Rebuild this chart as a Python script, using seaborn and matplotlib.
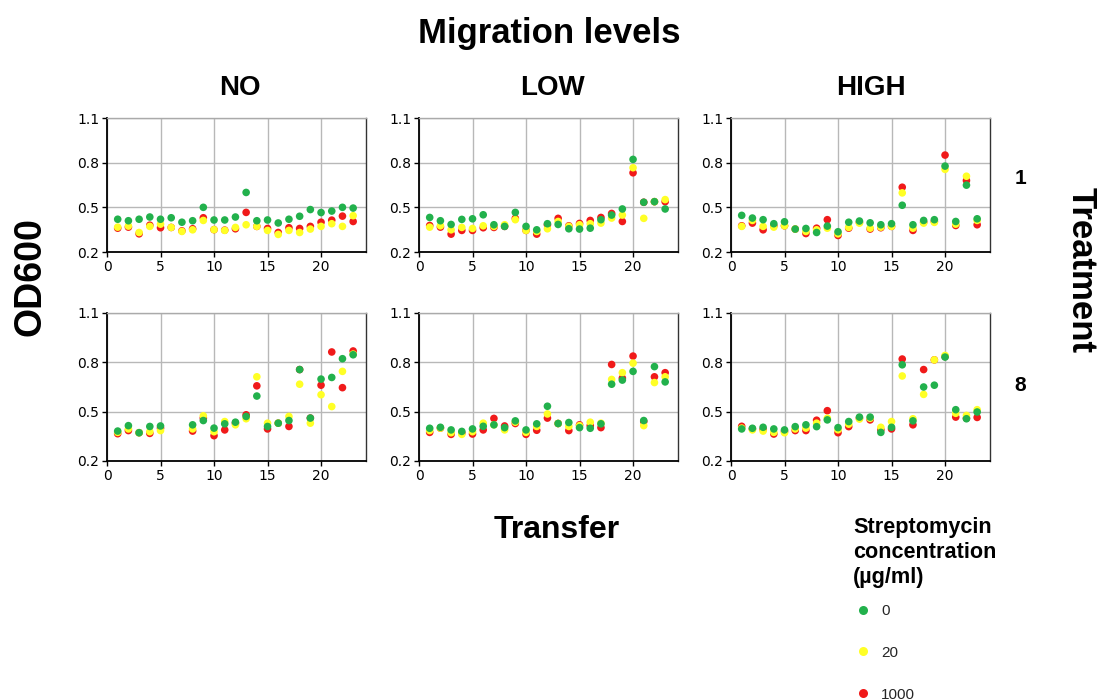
import numpy as np
import pandas as pd
import matplotlib
matplotlib.use("Agg")
import matplotlib.pyplot as plt
import seaborn as sns

# ---------------- data ----------------
transfers = list(range(1, 24))
migration_levels = ["NO", "LOW", "HIGH"]
treatments = ["1", "8"]
concentrations = ["0", "20", "1000"]
palette = {"0": "#22b14c", "20": "#ffff26", "1000": "#f01a1a"}
nan = np.nan

# Treatment 1
no_1_c0 = [0.42, 0.41, 0.42, 0.435, 0.42, 0.43, 0.40, 0.41, 0.50, 0.415, 0.415, 0.435, 0.60, 0.41, 0.415, 0.395, 0.42, 0.44, 0.485, 0.465, 0.475, 0.50, 0.495]
no_1_c20 = [0.367, 0.374, 0.331, 0.372, 0.387, 0.365, 0.338, 0.349, 0.412, 0.35, 0.345, 0.365, 0.383, 0.372, 0.345, 0.318, 0.345, 0.331, 0.354, 0.372, 0.39, 0.372, 0.444]
no_1_c1000 = [0.36, 0.367, 0.322, 0.38, 0.363, 0.365, 0.342, 0.356, 0.43, 0.35, 0.347, 0.356, 0.466, 0.372, 0.358, 0.331, 0.363, 0.358, 0.372, 0.40, 0.414, 0.441, 0.405]

low_1_c0 = [0.432, 0.41, 0.385, 0.419, 0.423, 0.45, 0.383, 0.372, 0.466, 0.372, 0.349, 0.39, 0.385, 0.356, 0.354, 0.36, 0.417, 0.448, 0.489, 0.822, 0.534, 0.538, 0.489]
low_1_c20 = [0.367, 0.376, 0.349, 0.365, 0.358, 0.376, 0.372, 0.383, 0.417, 0.345, 0.338, 0.356, 0.405, 0.372, 0.383, 0.39, 0.394, 0.428, 0.448, 0.766, 0.426, 0.538, 0.552]
low_1_c1000 = [0.378, 0.367, 0.32, 0.345, 0.345, 0.363, 0.365, 0.372, 0.426, 0.345, 0.32, 0.383, 0.426, 0.376, 0.392, 0.412, 0.432, 0.459, 0.405, 0.732, 0.534, 0.538, 0.538]

high_1_c0 = [0.446, 0.428, 0.417, 0.39, 0.403, 0.354, 0.358, 0.331, 0.374, 0.336, 0.40, 0.408, 0.396, 0.383, 0.39, 0.514, 0.383, 0.412, 0.417, 0.777, 0.405, 0.649, 0.423]
high_1_c20 = [0.372, 0.412, 0.372, 0.367, 0.376, 0.354, 0.338, 0.349, 0.36, 0.322, 0.365, 0.394, 0.36, 0.367, 0.372, 0.597, 0.36, 0.394, 0.399, 0.755, 0.387, 0.709, 0.412]
high_1_c1000 = [0.376, 0.394, 0.349, 0.376, 0.376, 0.354, 0.324, 0.36, 0.417, 0.311, 0.36, 0.399, 0.354, 0.363, 0.372, 0.635, 0.345, 0.40, 0.405, 0.851, 0.378, 0.68, 0.383]

# Treatment 8
no_8_c0 = [0.382, 0.415, 0.372, 0.41, 0.413, nan, nan, 0.42, 0.446, 0.40, 0.426, 0.436, 0.471, 0.595, 0.41, 0.43, 0.446, 0.756, 0.461, 0.698, 0.708, 0.822, 0.846]
no_8_c20 = [0.374, 0.395, 0.372, 0.378, 0.385, nan, nan, 0.395, 0.475, 0.378, 0.44, 0.42, 0.457, 0.712, 0.43, 0.43, 0.471, 0.667, 0.43, 0.603, 0.531, 0.745, 0.85]
no_8_c1000 = [0.366, 0.385, 0.372, 0.368, 0.40, nan, nan, 0.382, 0.461, 0.354, 0.389, 0.43, 0.481, 0.657, 0.395, 0.43, 0.41, 0.756, 0.461, 0.661, 0.863, 0.646, 0.869]

low_8_c0 = [0.399, 0.405, 0.389, 0.38, 0.395, 0.411, 0.42, 0.403, 0.444, 0.389, 0.426, 0.533, 0.428, 0.434, 0.403, 0.399, 0.426, 0.667, 0.692, 0.745, 0.446, 0.774, 0.681]
low_8_c20 = [0.385, 0.40, 0.372, 0.362, 0.378, 0.43, 0.42, 0.389, 0.436, 0.374, 0.41, 0.486, 0.428, 0.41, 0.415, 0.436, 0.43, 0.696, 0.737, 0.795, 0.415, 0.677, 0.712]
low_8_c1000 = [0.374, 0.40, 0.362, 0.37, 0.364, 0.389, 0.459, 0.413, 0.428, 0.362, 0.387, 0.461, 0.428, 0.385, 0.42, 0.415, 0.403, 0.787, 0.704, 0.838, 0.44, 0.712, 0.737]

high_8_c0 = [0.395, 0.399, 0.405, 0.395, 0.389, 0.409, 0.42, 0.409, 0.45, 0.403, 0.44, 0.467, 0.467, 0.374, 0.405, 0.785, 0.444, 0.65, 0.661, 0.832, 0.512, 0.457, 0.498]
high_8_c20 = [0.40, 0.389, 0.382, 0.374, 0.372, 0.395, 0.40, 0.43, 0.46, 0.39, 0.424, 0.455, 0.46, 0.405, 0.44, 0.717, 0.457, 0.605, 0.815, 0.842, 0.49, 0.477, 0.512]
high_8_c1000 = [0.411, 0.395, 0.392, 0.364, 0.38, 0.385, 0.385, 0.448, 0.506, 0.372, 0.409, 0.46, 0.45, 0.39, 0.395, 0.82, 0.42, 0.756, 0.815, 0.835, 0.467, 0.46, 0.465]

x_ticks = [0, 5, 10, 15, 20]
y_ticks = [0.2, 0.5, 0.8, 1.1]
legend_title_lines = ["Streptomycin", "concentration", "(µg/ml)"]

series = {
    ("NO", "1"): {"0": no_1_c0, "20": no_1_c20, "1000": no_1_c1000},
    ("LOW", "1"): {"0": low_1_c0, "20": low_1_c20, "1000": low_1_c1000},
    ("HIGH", "1"): {"0": high_1_c0, "20": high_1_c20, "1000": high_1_c1000},
    ("NO", "8"): {"0": no_8_c0, "20": no_8_c20, "1000": no_8_c1000},
    ("LOW", "8"): {"0": low_8_c0, "20": low_8_c20, "1000": low_8_c1000},
    ("HIGH", "8"): {"0": high_8_c0, "20": high_8_c20, "1000": high_8_c1000},
}

rows = []
for (mig, trt), d in series.items():
    for conc in ["1000", "20", "0"]:  # draw order: red, yellow, green on top
        for t, v in zip(transfers, d[conc]):
            rows.append({"migration": mig, "treatment": trt, "conc": conc,
                         "Transfer": t, "OD600": v})
df = pd.DataFrame(rows).dropna()

# ---------------- style ----------------
sns.set_style("whitegrid")
plt.rcParams["font.family"] = ["DejaVu Sans"]
plt.rcParams["grid.color"] = "#b8b8b8"
plt.rcParams["grid.linewidth"] = 1.0

W, H = 1099, 700
fig = plt.figure(figsize=(W / 100, H / 100), dpi=100)

col_left = [107, 419, 731]
col_w = 259
row_top = {"1": 118, "8": 313}
row_h = {"1": 134, "8": 148}

handles = labels = None
for trt in treatments:
    for ci, mig in enumerate(migration_levels):
        x0 = col_left[ci]
        y0 = row_top[trt]
        ax = fig.add_axes([x0 / W, 1 - (y0 + row_h[trt]) / H, col_w / W, row_h[trt] / H])
        sub = df[(df.migration == mig) & (df.treatment == trt)]
        sns.scatterplot(data=sub, x="Transfer", y="OD600", hue="conc",
                        hue_order=concentrations, palette=palette, s=30,
                        linewidth=0, ax=ax, legend=(handles is None))
        if handles is None:
            handles, labels = ax.get_legend_handles_labels()
        if ax.get_legend() is not None:
            ax.get_legend().remove()
        ax.set_xlim(0, 24.2)
        ax.set_ylim(0.2, 1.1)
        ax.set_xticks(x_ticks)
        ax.set_yticks(y_ticks)
        ax.set_yticklabels([f"{v:.1f}" for v in y_ticks])
        ax.set_xlabel("")
        ax.set_ylabel("")
        ax.tick_params(axis="both", labelsize=10, colors="black", length=3.5,
                       width=1, left=True, bottom=True, pad=2)
        ax.grid(True, color="#b8b8b8", linewidth=1.0)
        for side in ["left", "bottom"]:
            ax.spines[side].set_color("black")
            ax.spines[side].set_linewidth(1.3)
        ax.spines["right"].set_color("#333333")
        ax.spines["right"].set_linewidth(1.0)
        ax.spines["top"].set_color("#aaaaaa")
        ax.spines["top"].set_linewidth(1.0)

bold = dict(family=["Liberation Sans", "DejaVu Sans"], weight="bold", color="black")

fig.text(549 / W, 1 - 33 / H, "Migration levels", ha="center", va="center", fontsize=25, **bold)
for cx, name in zip([240, 553, 871], migration_levels):
    fig.text(cx / W, 1 - 88 / H, name, ha="center", va="center", fontsize=20, **bold)
fig.text(1020 / W, 1 - 178 / H, "1", ha="center", va="center", fontsize=15, **bold)
fig.text(1020 / W, 1 - 385 / H, "8", ha="center", va="center", fontsize=15, **bold)
fig.text(1081 / W, 1 - 270 / H, "Treatment", ha="center", va="center", rotation=270, fontsize=25, **bold)
fig.text(30 / W, 1 - 277 / H, "OD600", ha="center", va="center", rotation=90, fontsize=27, **bold)
fig.text(557 / W, 1 - 530 / H, "Transfer", ha="center", va="center", fontsize=23, **bold)

# legend title lines
for yy, line in zip([527, 553, 578], legend_title_lines):
    fig.text(853 / W, 1 - yy / H, line, ha="left", va="center", fontsize=15.6, **bold)

leg = fig.legend(handles, labels, loc="upper left",
                 bbox_to_anchor=(852 / W, 1 - 604 / H),
                 prop={"family": "Liberation Sans", "size": 11},
                 frameon=False, borderpad=0, borderaxespad=0,
                 handlelength=1.4, handletextpad=0.5, labelspacing=1.82,
                 markerscale=1.0)
for h in leg.legend_handles:
    try:
        h.set_markersize(6.5)
    except Exception:
        pass

fig.savefig("out.png", dpi=100)
